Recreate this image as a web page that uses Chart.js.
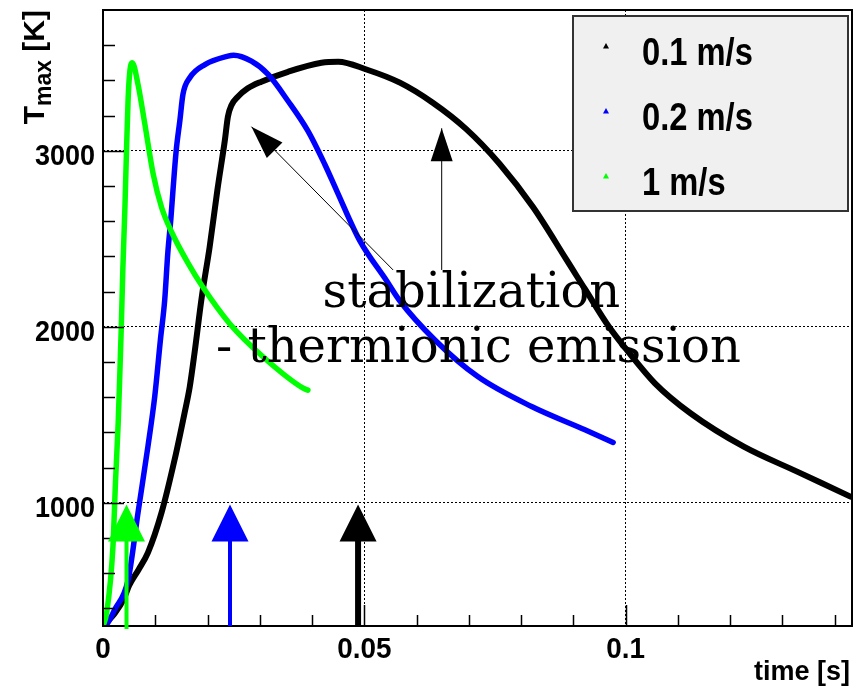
<!DOCTYPE html>
<html>
<head>
<meta charset="utf-8">
<script src="https://cdn.jsdelivr.net/npm/chart.js@4.4.0/dist/chart.umd.min.js"></script>
<style>
  body { margin: 0; background: #fff; }
  canvas { display: block; }
</style>
</head>
<body>
<canvas id="tmaxChart" width="856" height="688"></canvas>
<script>
// time [s] and T_max [K]
const time01 = [0, 0.0022, 0.0040, 0.0050, 0.0068, 0.0086, 0.0112, 0.0137, 0.0156, 0.0166, 0.0175, 0.0189, 0.0204, 0.0219, 0.0233, 0.0239, 0.0246, 0.0258, 0.0277, 0.0303, 0.0354, 0.0418, 0.0450, 0.0504, 0.0568, 0.0631, 0.0695, 0.0759, 0.0823, 0.0887, 0.0906, 0.0922, 0.0968, 0.1002, 0.1056, 0.1124, 0.1226, 0.1328, 0.1430];
const temp01 = [300, 370, 455, 530, 620, 717, 944, 1245, 1510, 1660, 1849, 2170, 2453, 2780, 3057, 3194, 3260, 3307, 3355, 3393, 3449, 3500, 3506, 3462, 3387, 3273, 3123, 2925, 2679, 2380, 2290, 2215, 2000, 1869, 1679, 1509, 1319, 1177, 1035];

const time02 = [0, 0.0009, 0.0022, 0.0048, 0.0067, 0.0086, 0.0099, 0.0110, 0.0118, 0.0124, 0.0130, 0.0134, 0.0140, 0.0147, 0.0153, 0.0166, 0.0195, 0.0239, 0.0250, 0.0284, 0.0316, 0.0354, 0.0392, 0.0424, 0.0447, 0.0491, 0.0542, 0.0567, 0.0635, 0.0717, 0.0820, 0.0922, 0.0976];
const temp02 = [300, 317, 391, 561, 944, 1321, 1604, 1930, 2150, 2420, 2620, 2780, 3000, 3170, 3321, 3415, 3490, 3538, 3543, 3509, 3434, 3283, 3113, 2925, 2774, 2491, 2264, 2151, 1925, 1717, 1547, 1415, 1343];

const time1 = [0, 0.0007, 0.0019, 0.0024, 0.0029, 0.0032, 0.0035, 0.0038, 0.0042, 0.0045, 0.0048, 0.0051, 0.0056, 0.0067, 0.0080, 0.0096, 0.0112, 0.0131, 0.0163, 0.0190, 0.0242, 0.0306, 0.0383, 0.0392];
const temp1 = [300, 374, 750, 1125, 1449, 1712, 2000, 2330, 2682, 3005, 3289, 3441, 3500, 3377, 3153, 2868, 2679, 2540, 2360, 2230, 2019, 1830, 1651, 1640];

const seriesLabels = ["0.1 m/s", "0.2 m/s", "1 m/s"];
const seriesColors = ["#000000", "#0000ff", "#00ff00"];

const xTickValues = [0, 0.05, 0.1];
const xTickLabels = ["0", "0.05", "0.1"];
const yTickValues = [1000, 2000, 3000];
const yTickLabels = ["1000", "2000", "3000"];

// onset markers (arrows at the bottom)
const onsetTimes = [0.0045, 0.0243, 0.0488];
const onsetColors = ["#00ff00", "#0000ff", "#000000"];
const onsetTip = 990;

// annotation text and arrows, data coordinates
const noteLines = ["stabilization", "- thermionic emission"];
const noteTimes = [0.0420, 0.0216];
const noteTemps = [2114, 1802];
const noteArrowFrom = [[0.0555, 2323], [0.0648, 2323]];
const noteArrowTo = [[0.0284, 3137], [0.0648, 3128]];

const toPoints = (ts, vs) => ts.map((t, i) => ({ x: t, y: vs[i] }));

function squeezeText(ctx, s, x, y, font, sx, align) {
    ctx.save();
    ctx.translate(x, y);
    ctx.scale(sx, 1);
    ctx.font = font;
    ctx.textAlign = align;
    ctx.textBaseline = "alphabetic";
    ctx.fillText(s, 0, 0);
    ctx.restore();
}

function arrowHead(ctx, x0, y0, x1, y1, len, width) {
    const ang = Math.atan2(y1 - y0, x1 - x0);
    ctx.save();
    ctx.translate(x1, y1);
    ctx.rotate(ang);
    ctx.beginPath();
    ctx.moveTo(0, 0);
    ctx.lineTo(-len, width / 2);
    ctx.lineTo(-len, -width / 2);
    ctx.closePath();
    ctx.fill();
    ctx.restore();
}

const rootStyle = {
    id: "rootStyle",
    afterDatasetsDraw(chart) {
        const { ctx, chartArea: a, scales } = chart;
        const xs = scales.x, ys = scales.y;
        ctx.save();

        // frame
        ctx.strokeStyle = "#000";
        ctx.lineWidth = 2;
        ctx.strokeRect(a.left, a.top, a.right - a.left, a.bottom - a.top);

        // ticks inside the frame
        ctx.lineWidth = 1.5;
        ctx.beginPath();
        for (let k = 1; k <= 14; k++) {
            const v = k / 100;
            const px = Math.round(xs.getPixelForValue(v)) + 0.5;
            const len = (k % 5 === 0) ? 21 : 11;
            ctx.moveTo(px, a.bottom);
            ctx.lineTo(px, a.bottom - len);
        }
        for (let v = 400; v < 3800; v += 200) {
            const py = Math.round(ys.getPixelForValue(v)) + 0.5;
            const len = (v % 1000 === 0) ? 21 : 12;
            ctx.moveTo(a.left, py);
            ctx.lineTo(a.left + len, py);
        }
        ctx.stroke();

        // tick labels
        ctx.fillStyle = "#000";
        xTickValues.forEach((v, i) => {
            squeezeText(ctx, xTickLabels[i], xs.getPixelForValue(v), a.bottom + 32,
                'bold 30px "Liberation Sans", Arial, sans-serif', 0.93, "center");
        });
        yTickValues.forEach((v, i) => {
            squeezeText(ctx, yTickLabels[i], a.left - 8, ys.getPixelForValue(v) + 14,
                'bold 30px "Liberation Sans", Arial, sans-serif', 0.9, "right");
        });

        // axis titles
        squeezeText(ctx, "time [s]", a.right - 2, 680,
            'bold 27px "Liberation Sans", Arial, sans-serif', 1.0, "right");

        ctx.save();
        ctx.translate(44, a.top);
        ctx.rotate(-Math.PI / 2);
        const big = 'bold 30px "Liberation Sans", Arial, sans-serif';
        const small = 'bold 23px "Liberation Sans", Arial, sans-serif';
        ctx.font = big;
        const wT = ctx.measureText("T").width;
        const wK = ctx.measureText(" [K]").width;
        ctx.font = small;
        const wM = ctx.measureText("max").width;
        let cx = -(wT + wM + wK);
        ctx.textAlign = "left";
        ctx.font = big;
        ctx.fillText("T", cx, 0);
        cx += wT;
        ctx.font = small;
        ctx.fillText("max", cx, 7);
        cx += wM;
        ctx.font = big;
        ctx.fillText(" [K]", cx, 0);
        ctx.restore();

        // onset arrows
        onsetTimes.forEach((t, i) => {
            const px = xs.getPixelForValue(t);
            const tip = ys.getPixelForValue(onsetTip);
            ctx.fillStyle = onsetColors[i];
            ctx.strokeStyle = onsetColors[i];
            ctx.lineWidth = i === 2 ? 6 : 4;
            ctx.beginPath();
            ctx.moveTo(px, a.bottom + (i === 0 ? 3 : 0));
            ctx.lineTo(px, tip + 30);
            ctx.stroke();
            arrowHead(ctx, px, a.bottom, px, tip, 37, 37);
        });

        // stabilization arrows
        ctx.fillStyle = "#000";
        ctx.strokeStyle = "#000";
        ctx.lineWidth = 1;
        noteArrowFrom.forEach((f, i) => {
            const x0 = xs.getPixelForValue(f[0]), y0 = ys.getPixelForValue(f[1]);
            const x1 = xs.getPixelForValue(noteArrowTo[i][0]), y1 = ys.getPixelForValue(noteArrowTo[i][1]);
            ctx.beginPath();
            ctx.moveTo(x0, y0);
            ctx.lineTo(x1, y1);
            ctx.stroke();
            arrowHead(ctx, x0, y0, x1, y1, 33, 22);
        });

        // annotation text
        noteLines.forEach((s, i) => {
            squeezeText(ctx, s, xs.getPixelForValue(noteTimes[i]), ys.getPixelForValue(noteTemps[i]),
                '48px "DejaVu Serif", serif', 1.0, "left");
        });

        // legend box
        const lx = 573, ly = 16, lw = 275, lh = 195;
        ctx.fillStyle = "#f0f0f0";
        ctx.fillRect(lx, ly, lw, lh);
        ctx.strokeStyle = "#333";
        ctx.lineWidth = 2;
        ctx.strokeRect(lx, ly, lw, lh);
        const rowY = [65, 130, 195];
        seriesLabels.forEach((s, i) => {
            ctx.fillStyle = seriesColors[i];
            const mx = 606, my = rowY[i] - 19;
            ctx.beginPath();
            ctx.moveTo(mx, my - 3);
            ctx.lineTo(mx + 3, my + 2.5);
            ctx.lineTo(mx - 3, my + 2.5);
            ctx.closePath();
            ctx.fill();
            ctx.fillStyle = "#000";
            squeezeText(ctx, s, 642, rowY[i], 'bold 38px "Liberation Sans", Arial, sans-serif', 0.86, "left");
        });

        ctx.restore();
    }
};

const ctx = document.getElementById("tmaxChart").getContext("2d");
new Chart(ctx, {
    type: "line",
    data: {
        datasets: [
            {
                label: seriesLabels[2],
                data: toPoints(time1, temp1),
                borderColor: seriesColors[2],
                borderWidth: 5.5,
            },
            {
                label: seriesLabels[1],
                data: toPoints(time02, temp02),
                borderColor: seriesColors[1],
                borderWidth: 5.5,
            },
            {
                label: seriesLabels[0],
                data: toPoints(time01, temp01),
                borderColor: seriesColors[0],
                borderWidth: 6,
            },
        ],
    },
    options: {
        responsive: false,
        animation: false,
        parsing: false,
        layout: { padding: { left: 0, top: 10, right: 4, bottom: 0 } },
        elements: {
            point: { radius: 0 },
            line: { cubicInterpolationMode: "monotone", fill: false, borderCapStyle: "round", borderJoinStyle: "round" },
        },
        plugins: {
            legend: { display: false },
            tooltip: { enabled: false },
        },
        scales: {
            x: {
                type: "linear",
                min: 0,
                max: 0.1433,
                afterBuildTicks: (s) => { s.ticks = xTickValues.map((v) => ({ value: v })); },
                afterFit: (s) => { s.height = 62; },
                ticks: { display: false },
                grid: { color: "#000", lineWidth: 1, drawTicks: false },
                border: { display: false, dash: [2, 2] },
            },
            y: {
                type: "linear",
                min: 300,
                max: 3800,
                afterBuildTicks: (s) => { s.ticks = yTickValues.map((v) => ({ value: v })); },
                afterFit: (s) => { s.width = 103; },
                ticks: { display: false },
                grid: { color: "#000", lineWidth: 1, drawTicks: false },
                border: { display: false, dash: [2, 2] },
            },
        },
    },
    plugins: [rootStyle],
});
</script>
</body>
</html>
